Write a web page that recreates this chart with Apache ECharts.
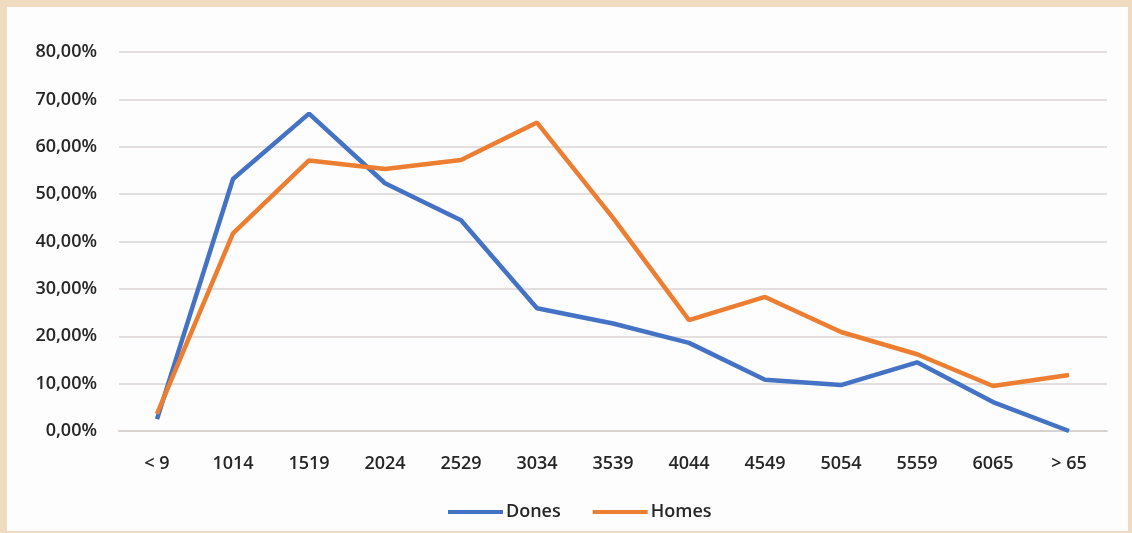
<!DOCTYPE html>
<html>
<head>
<meta charset="utf-8">
<script src="https://cdn.jsdelivr.net/npm/echarts@6/dist/echarts.min.js"></script>
<style>
html,body{margin:0;padding:0;width:1132px;height:533px;overflow:hidden;background:#efdcc0;}
#chart{position:absolute;left:0;top:0;width:1132px;height:533px;}
</style>
</head>
<body>
<div id="chart"></div>
<script>
const categories = ['< 9','1014','1519','2024','2529','3034','3539','4044','4549','5054','5559','6065','> 65'];
const dones = [2.5, 53.2, 67.0, 52.3, 44.5, 25.9, 22.7, 18.6, 10.8, 9.7, 14.5, 6.1, 0.0];
const homes = [3.6, 41.7, 57.1, 55.3, 57.2, 65.1, 45.0, 23.4, 28.3, 20.9, 16.2, 9.5, 11.8];
const yTicks = {min: 0, max: 80, interval: 10};

const chart = echarts.init(document.getElementById('chart'));
const labelColor = '#262626';
const font = '"Open Sans", sans-serif';
chart.setOption({
  backgroundColor: '#efdcc0',
  graphic: [{
    type: 'rect', left: 7, top: 7, z: -10,
    shape: {width: 1121, height: 524},
    style: {fill: '#fdfdfd'}
  }],
  grid: {left: 119, right: 25, top: 52, bottom: 102},
  legend: {
    bottom: 7, left: 443,
    itemWidth: 55, itemHeight: 4, itemGap: 32,
    icon: 'rect',
    textStyle: {color: labelColor, fontSize: 18, fontWeight: 600, fontFamily: font, padding: [0, 0, 0, -2]},
    data: ['Dones','Homes']
  },
  xAxis: {
    type: 'category',
    data: categories,
    boundaryGap: true,
    axisLine: {lineStyle: {color: '#d6d2d0', width: 2}},
    axisTick: {show: false},
    axisLabel: {color: labelColor, fontSize: 18, fontWeight: 600, fontFamily: font, margin: 24}
  },
  yAxis: {
    type: 'value',
    min: yTicks.min, max: yTicks.max, interval: yTicks.interval,
    axisLine: {show: false},
    axisTick: {show: false},
    splitLine: {lineStyle: {color: '#d9d5d3', width: 1.5}},
    axisLabel: {
      color: labelColor, fontSize: 18, fontWeight: 600, fontFamily: font, margin: 22,
      formatter: v => v.toFixed(2).replace('.', ',') + '%'
    }
  },
  series: [
    {name: 'Dones', type: 'line', data: dones, showSymbol: false, symbol: 'none',
     lineStyle: {color: '#4472c4', width: 4.5}, itemStyle: {color: '#4472c4'}},
    {name: 'Homes', type: 'line', data: homes, showSymbol: false, symbol: 'none',
     lineStyle: {color: '#ed7d31', width: 4.5}, itemStyle: {color: '#ed7d31'}}
  ]
});
</script>
</body>
</html>
